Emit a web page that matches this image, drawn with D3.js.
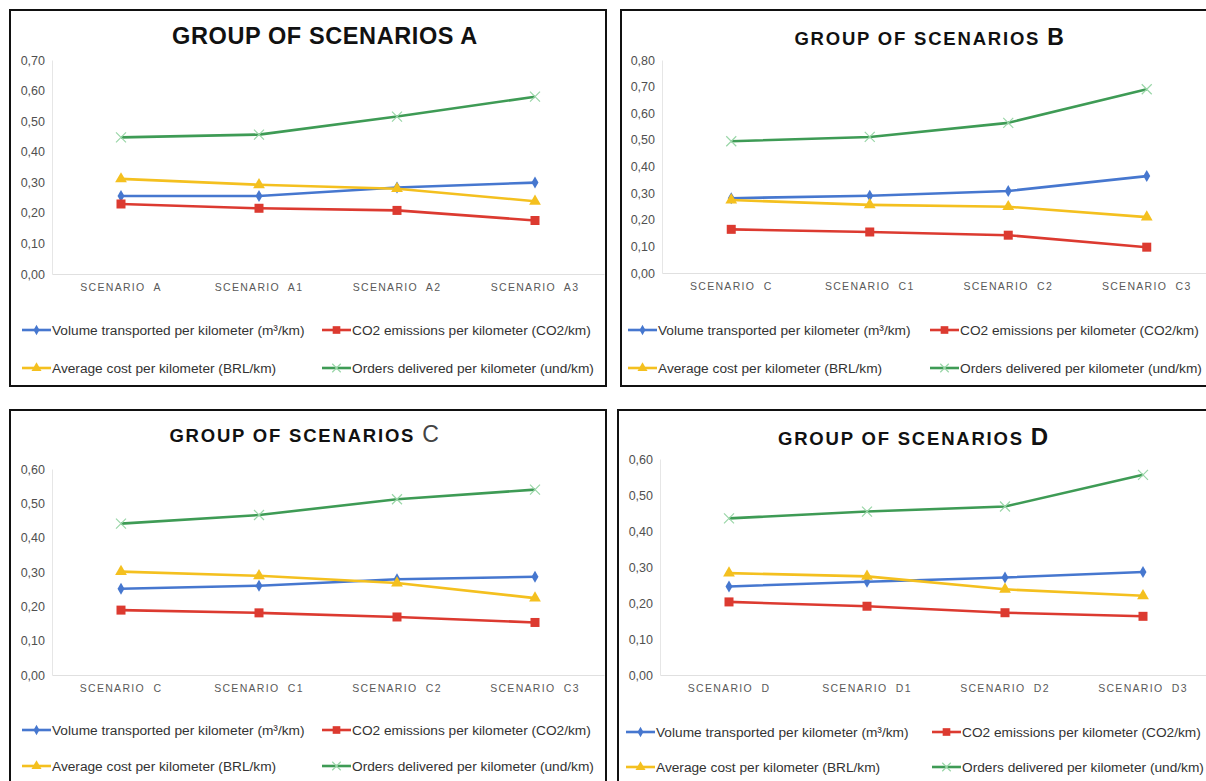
<!DOCTYPE html>
<html><head><meta charset="utf-8">
<script src="https://cdn.jsdelivr.net/npm/d3@7"></script>
<style>
body{margin:0;background:#fff;}
svg{display:block;font-family:"Liberation Sans",Arial,sans-serif;}
</style></head>
<body><svg id="chart" width="1206" height="781"></svg>
<script>
// ---- data ----
const seriesNames = [
  "Volume transported per kilometer (m³/km)",
  "CO2 emissions per kilometer (CO2/km)",
  "Average cost per kilometer (BRL/km)",
  "Orders delivered per kilometer (und/km)"
];
const seriesColors = ["#4677cf", "#dc3a30", "#f4c01f", "#3e9b55"];
const seriesMarkers = ["diamond", "square", "triangle", "cross"];

const titlesMain = ["GROUP OF SCENARIOS", "GROUP OF SCENARIOS", "GROUP OF SCENARIOS", "GROUP OF SCENARIOS"];
const titlesLetter = ["A", "B", "C", "D"];

const categoriesA = ["SCENARIO  A", "SCENARIO  A1", "SCENARIO  A2", "SCENARIO  A3"];
const categoriesB = ["SCENARIO  C", "SCENARIO  C1", "SCENARIO  C2", "SCENARIO  C3"];
const categoriesC = ["SCENARIO  C", "SCENARIO  C1", "SCENARIO  C2", "SCENARIO  C3"];
const categoriesD = ["SCENARIO  D", "SCENARIO  D1", "SCENARIO  D2", "SCENARIO  D3"];

const yTicksA = [0, 0.1, 0.2, 0.3, 0.4, 0.5, 0.6, 0.7];
const yTicksB = [0, 0.1, 0.2, 0.3, 0.4, 0.5, 0.6, 0.7, 0.8];
const yTicksC = [0, 0.1, 0.2, 0.3, 0.4, 0.5, 0.6];
const yTicksD = [0, 0.1, 0.2, 0.3, 0.4, 0.5, 0.6];

const volumeA = [0.255, 0.255, 0.283, 0.299];
const co2A    = [0.229, 0.215, 0.208, 0.175];
const costA   = [0.311, 0.292, 0.279, 0.238];
const ordersA = [0.447, 0.456, 0.515, 0.580];

const volumeB = [0.281, 0.290, 0.308, 0.364];
const co2B    = [0.164, 0.154, 0.142, 0.097];
const costB   = [0.274, 0.256, 0.249, 0.210];
const ordersB = [0.495, 0.511, 0.564, 0.690];

const volumeC = [0.251, 0.260, 0.279, 0.286];
const co2C    = [0.189, 0.181, 0.169, 0.153];
const costC   = [0.301, 0.289, 0.268, 0.224];
const ordersC = [0.441, 0.466, 0.512, 0.540];

const volumeD = [0.246, 0.259, 0.271, 0.286];
const co2D    = [0.203, 0.191, 0.173, 0.163];
const costD   = [0.283, 0.274, 0.238, 0.220];
const ordersD = [0.435, 0.454, 0.468, 0.556];

// ---- layout ----
const panels = [
  {box:[10,10,596,376], plot:{x0:52,x1:604,yTop:60,yBot:274}, titleX:325, titleY:44, titleStyle:"A",
   legend:{x1:22,x2:322,y1:330,y2:368}, cats:categoriesA, ticks:yTicksA, series:[volumeA,co2A,costA,ordersA]},
  {box:[621,10,600,376], plot:{x0:662,x1:1216,yTop:60,yBot:273}, titleX:930, titleY:45, titleStyle:"B",
   legend:{x1:628,x2:930,y1:330,y2:368}, cats:categoriesB, ticks:yTicksB, series:[volumeB,co2B,costB,ordersB]},
  {box:[10,410,596,400], plot:{x0:52,x1:604,yTop:469,yBot:675}, titleX:305, titleY:442, titleStyle:"C",
   legend:{x1:22,x2:322,y1:730,y2:766}, cats:categoriesC, ticks:yTicksC, series:[volumeC,co2C,costC,ordersC]},
  {box:[618,410,600,400], plot:{x0:660,x1:1212,yTop:459,yBot:675}, titleX:914, titleY:445, titleStyle:"D",
   legend:{x1:626,x2:932,y1:732,y2:767}, cats:categoriesD, ticks:yTicksD, series:[volumeD,co2D,costD,ordersD]}
];

const svg = d3.select("#chart");
svg.append("rect").attr("width",1206).attr("height",781).attr("fill","#fff");

const fmt = v => d3.format(".2f")(v).replace(".", ",");

function drawMarker(g, type, x, y, color, scale=1) {
  const s = scale;
  if (type === "diamond") {
    g.append("path").attr("d", d3.symbol(d3.symbolDiamond, 42*s*s)())
      .attr("transform", `translate(${x},${y})`).attr("fill", color);
  } else if (type === "square") {
    g.append("rect").attr("x", x-4.5*s).attr("y", y-4.5*s).attr("width", 9*s).attr("height", 9*s).attr("fill", color);
  } else if (type === "triangle") {
    g.append("path").attr("d", d3.symbol(d3.symbolTriangle, 60*s*s)())
      .attr("transform", `translate(${x},${y})`).attr("fill", color);
  } else {
    const r = 5*s;
    g.append("path").attr("d", `M${x-r},${y-r}L${x+r},${y+r}M${x-r},${y+r}L${x+r},${y-r}`)
      .attr("stroke", "#9ad6a8").attr("stroke-width", 1.2).attr("fill","none");
  }
}

panels.forEach((p, pi) => {
  const g = svg.append("g");
  const yMax = p.ticks[p.ticks.length-1];
  const x = d3.scaleBand().domain(p.cats).range([p.plot.x0, p.plot.x1]);
  const y = d3.scaleLinear().domain([0, yMax]).range([p.plot.yBot, p.plot.yTop]);

  // y axis
  const ya = g.append("g").attr("transform", `translate(${p.plot.x0},0)`)
    .call(d3.axisLeft(y).tickValues(p.ticks).tickFormat(fmt).tickSize(0).tickPadding(7));
  ya.select(".domain").attr("stroke", "#e6e6e6");
  ya.selectAll("text").attr("fill", "#505050").style("font-size", "12.5px").style("font-family", "Liberation Sans, Arial, sans-serif");

  // x axis
  const xa = g.append("g").attr("transform", `translate(0,${p.plot.yBot})`)
    .call(d3.axisBottom(x).tickSize(0).tickPadding(10));
  xa.select(".domain").attr("stroke", "#e0e0e0");
  xa.selectAll("text").attr("fill", "#595959").style("font-size", "10.5px")
    .style("letter-spacing", "1.3px").style("white-space","pre").style("font-family", "Liberation Sans, Arial, sans-serif");

  // series
  const line = d3.line().x((d,i) => x(p.cats[i]) + x.bandwidth()/2).y(d => y(d));
  p.series.forEach((vals, si) => {
    g.append("path").datum(vals).attr("d", line).attr("fill", "none")
      .attr("stroke", seriesColors[si]).attr("stroke-width", 2.6).attr("stroke-linejoin","round");
  });
  p.series.forEach((vals, si) => {
    vals.forEach((v, i) => drawMarker(g, seriesMarkers[si], x(p.cats[i]) + x.bandwidth()/2, y(v), seriesColors[si]));
  });

  // title
  const t = g.append("text").attr("x", p.titleX).attr("y", p.titleY).attr("text-anchor", "middle")
    .attr("fill", "#111").style("font-weight", "bold");
  if (p.titleStyle === "A") {
    t.style("font-size", "23.5px").style("letter-spacing", "0.6px");
    t.append("tspan").text(titlesMain[pi] + " ");
    t.append("tspan").text(titlesLetter[pi]);
  } else if (p.titleStyle === "B") {
    t.style("font-size", "18.5px").style("letter-spacing", "1.8px");
    t.append("tspan").text(titlesMain[pi] + "  ");
    t.append("tspan").text(titlesLetter[pi]).style("font-size", "23px");
  } else if (p.titleStyle === "C") {
    t.style("font-size", "18.5px").style("letter-spacing", "1.8px");
    t.append("tspan").text(titlesMain[pi] + " ");
    t.append("tspan").text(titlesLetter[pi]).style("font-size", "23px").style("font-weight","normal").attr("fill","#444");
  } else {
    t.style("font-size", "18.5px").style("letter-spacing", "1.8px");
    t.append("tspan").text(titlesMain[pi] + " ");
    t.append("tspan").text(titlesLetter[pi]).style("font-size", "24px");
  }

  // legend
  const lpos = [[p.legend.x1, p.legend.y1],[p.legend.x2, p.legend.y1],[p.legend.x1, p.legend.y2],[p.legend.x2, p.legend.y2]];
  seriesNames.forEach((name, si) => {
    const [lx, ly] = lpos[si];
    g.append("line").attr("x1", lx).attr("x2", lx+29).attr("y1", ly).attr("y2", ly)
      .attr("stroke", seriesColors[si]).attr("stroke-width", 2.6);
    drawMarker(g, seriesMarkers[si], lx+14.5, ly, seriesColors[si], 0.85);
    g.append("text").attr("x", lx+30).attr("y", ly).attr("dy", "0.35em")
      .attr("fill", "#333").style("font-size", "13.7px").text(name);
  });

  // border
  g.append("rect").attr("x", p.box[0]).attr("y", p.box[1]).attr("width", p.box[2]).attr("height", p.box[3])
    .attr("fill", "none").attr("stroke", "#111").attr("stroke-width", 2);
});
</script>
</body></html>
